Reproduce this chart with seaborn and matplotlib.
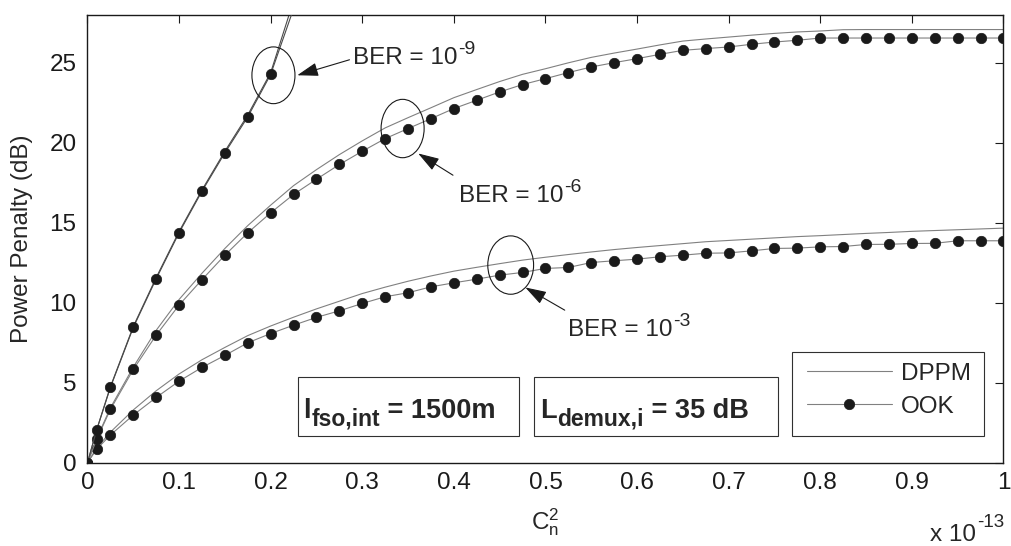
import numpy as np
import pandas as pd
import seaborn as sns
import matplotlib
matplotlib.use("Agg")
import matplotlib.pyplot as plt
from matplotlib.patches import Ellipse, Rectangle

# ---------------- data (x in units of 1e-13) ----------------
cn2_e13 = [0, 0.01, 0.025, 0.05, 0.075, 0.1, 0.125, 0.15, 0.175, 0.2, 0.225,
           0.25, 0.275, 0.3, 0.325, 0.35, 0.375, 0.4, 0.425, 0.45, 0.475, 0.5,
           0.525, 0.55, 0.575, 0.6, 0.625, 0.65, 0.675, 0.7, 0.725, 0.75, 0.775,
           0.8, 0.825, 0.85, 0.875, 0.9, 0.925, 0.95, 0.975, 1.0]
cn2_e13_ber9 = [0, 0.01, 0.025, 0.05, 0.075, 0.1, 0.125, 0.15, 0.175, 0.2, 0.225]

ook_ber9 = [0, 2.04, 4.71, 8.46, 11.5, 14.38, 16.98, 19.38, 21.63, 24.29, 28.4]
dppm_ber9 = [0, 2.06, 4.75, 8.52, 11.58, 14.46, 17.06, 19.48, 21.75, 24.4, 28.9]

ook_ber6 = [0, 1.46, 3.33, 5.83, 7.98, 9.86, 11.45, 12.98, 14.38, 15.63, 16.78,
            17.73, 18.65, 19.48, 20.27, 20.9, 21.52, 22.15, 22.67, 23.19, 23.65,
            24.02, 24.4, 24.75, 25.02, 25.27, 25.54, 25.79, 25.9, 26.0, 26.17,
            26.31, 26.42, 26.56, 26.56, 26.56, 26.56, 26.56, 26.56, 26.56, 26.56, 26.56]
dppm_ber6 = [0, 1.51, 3.43, 5.98, 8.28, 10.21, 11.85, 13.4, 14.83, 16.11, 17.33,
             18.33, 19.27, 20.13, 20.94, 21.58, 22.2, 22.83, 23.34, 23.84, 24.29,
             24.64, 25.01, 25.35, 25.62, 25.87, 26.13, 26.37, 26.5, 26.62, 26.74,
             26.85, 26.94, 27.0, 27.08, 27.09, 27.09, 27.09, 27.09, 27.09, 27.09, 27.09]

ook_ber3 = [0, 0.84, 1.73, 2.98, 4.08, 5.1, 5.96, 6.71, 7.5, 8.08, 8.6, 9.09, 9.5,
            9.96, 10.38, 10.63, 11.0, 11.25, 11.48, 11.73, 11.9, 12.15, 12.21,
            12.52, 12.63, 12.73, 12.88, 12.98, 13.1, 13.12, 13.25, 13.4, 13.42,
            13.5, 13.52, 13.65, 13.66, 13.71, 13.72, 13.88, 13.88, 13.88]
dppm_ber3 = [0, 0.92, 1.91, 3.3, 4.5, 5.55, 6.44, 7.21, 7.95, 8.55, 9.1, 9.62,
             10.1, 10.58, 10.98, 11.35, 11.68, 11.98, 12.22, 12.45, 12.67, 12.85,
             13.02, 13.18, 13.33, 13.46, 13.58, 13.7, 13.82, 13.9, 13.98, 14.06,
             14.14, 14.2, 14.27, 14.34, 14.4, 14.47, 14.52, 14.57, 14.62, 14.67]

xtick_values = [0, 0.1, 0.2, 0.3, 0.4, 0.5, 0.6, 0.7, 0.8, 0.9, 1.0]
xtick_labels = ["0", "0.1", "0.2", "0.3", "0.4", "0.5", "0.6", "0.7", "0.8", "0.9", "1"]
ytick_values = [0, 5, 10, 15, 20, 25]
series_labels = ["DPPM", "OOK"]
ber_exponents = ["-9", "-6", "-3"]

# ---------------- style ----------------
sns.set_theme(style="white")
plt.rcParams["font.family"] = ["Liberation Sans", "DejaVu Sans"]
plt.rcParams["mathtext.fontset"] = "custom"
plt.rcParams["mathtext.rm"] = "Liberation Sans"
plt.rcParams["mathtext.it"] = "Liberation Sans:italic"
plt.rcParams["mathtext.bf"] = "Liberation Sans:bold"
FS = 17.5
GREY = "#808080"

fig = plt.figure(figsize=(10.12, 5.46), dpi=100)
W, H = 1012.0, 546.0
x0p, x1p, ytp, ybp = 87.5, 1003.5, 15.0, 462.7
ax = fig.add_axes([x0p / W, 1 - ybp / H, (x1p - x0p) / W, (ybp - ytp) / H])

handles = []
for xs, dppm, ook, col in [(cn2_e13, dppm_ber3, ook_ber3, GREY),
                           (cn2_e13, dppm_ber6, ook_ber6, GREY),
                           (cn2_e13_ber9, dppm_ber9, ook_ber9, "#4a4a4a")]:
    sns.lineplot(x=xs, y=dppm, ax=ax, color=col, lw=0.8, estimator=None,
                 sort=False, legend=False)
    l_d = ax.lines[-1]
    sns.lineplot(x=xs, y=ook, ax=ax, color=col, lw=0.8, marker="o",
                 markersize=7.5, markerfacecolor="k", markeredgecolor="k",
                 markeredgewidth=0.5, estimator=None, sort=False, legend=False)
    l_o = ax.lines[-1]
    l_o.set_markerfacecolor("k")
    l_o.set_markeredgecolor("k")
    l_o.set_zorder(3)
    if col == GREY:
        handles = [l_d, l_o]

ax.set_xlim(0, 1)
ax.set_ylim(0, 28)
ax.set_xticks(xtick_values)
ax.set_xticklabels(xtick_labels)
ax.set_yticks(ytick_values)
ax.tick_params(direction="in", top=True, right=True, length=6, width=0.8,
               labelsize=FS, colors="k")
ax.tick_params(axis="x", pad=7)
ax.tick_params(axis="y", pad=8)
for s in ax.spines.values():
    s.set_color("k")
    s.set_linewidth(1.0)

ax.set_ylabel("Power Penalty (dB)", fontsize=FS, va="center")
ax.yaxis.set_label_coords((22 - x0p) / (x1p - x0p), 0.5)
ax.set_xlabel(r"$\mathregular{C_n^2}$", fontsize=FS, va="baseline")
ax.xaxis.set_label_coords(0.5, (ybp - 529) / (ybp - ytp))


def chain(first, parts):
    """Place text parts one after another; each part is (text, size, rise_pt, weight)."""
    prev = first
    for txt, size, rise, weight in parts:
        prev = ax.annotate(txt, xy=(1, 0), xycoords=(prev, first),
                           xytext=(0.5, rise), textcoords="offset points",
                           ha="left", va="bottom", fontsize=size,
                           fontweight=weight, zorder=first.get_zorder(),
                           annotation_clip=False)
    return prev


# offset label
t_off = fig.text(976 / W, 1 - 541 / H, "x 10", ha="right", va="baseline",
                 fontsize=FS)
ax.annotate("-13", xy=(1, 0), xycoords=t_off, xytext=(0.5, 10.5),
            textcoords="offset points", ha="left", va="bottom", fontsize=13.5,
            annotation_clip=False)

# ellipses, arrows and BER labels
ell = [((0.203, 24.23), 0.047, 3.55), ((0.344, 20.9), 0.047, 3.65),
       ((0.462, 12.36), 0.05, 3.65)]
for c, w, h in ell:
    ax.add_patch(Ellipse(c, w, h, fill=False, ec="k", lw=0.8, zorder=4))

arrows = [((0.286, 25.2), (0.229, 24.23)), ((0.399, 17.98), (0.361, 19.34)),
          ((0.521, 9.54), (0.478, 10.96))]
for tail, head in arrows:
    ax.annotate("", xy=head, xytext=tail,
                arrowprops=dict(arrowstyle="-|>,head_length=1.3,head_width=0.42",
                                color="k", lw=0.8, shrinkA=0, shrinkB=0,
                                mutation_scale=10))
txt_pos = [(0.29, 24.96), (0.406, 16.31), (0.525, 7.95)]
for (tx, ty), ex in zip(txt_pos, ber_exponents):
    t = ax.text(tx, ty, "BER = 10", fontsize=FS, ha="left", va="baseline")
    chain(t, [(ex, 14, 7.5, "normal")])

# parameter boxes
box_texts = [("l", "fso,int", " = 1500m"), ("L", "demux,i", " = 35 dB")]
for (bx0, bx1), (main, sub, rest), tx in zip([(0.230, 0.471), (0.487, 0.754)],
                                             box_texts, [0.2355, 0.494]):
    ax.add_patch(Rectangle((bx0, 1.67), bx1 - bx0, 5.37 - 1.67, fc="white",
                           ec="#303030", lw=0.8, zorder=5))
    t = ax.text(tx, 2.8, main, fontsize=19.5, fontweight="bold", ha="left",
                va="baseline", zorder=6)
    s = chain(t, [(sub, 16.5, -4.5, "bold")])
    ax.annotate(rest, xy=(1, 0), xycoords=(s, t), xytext=(0, 0),
                textcoords="offset points", ha="left", va="bottom",
                fontsize=19.5, fontweight="bold", zorder=6)

# legend
ax.add_patch(Rectangle((0.769, 1.67), 0.979 - 0.769, 6.93 - 1.67, fc="white",
                       ec="#303030", lw=0.8, zorder=5))
leg = ax.legend(handles, series_labels, loc="upper left",
                bbox_to_anchor=(0.785, 6.26 / 28), frameon=False, borderpad=0,
                borderaxespad=0, handlelength=3.5, handletextpad=0.4,
                labelspacing=0.45, fontsize=FS)
leg.set_zorder(7)

fig.savefig("out.png", dpi=100)
